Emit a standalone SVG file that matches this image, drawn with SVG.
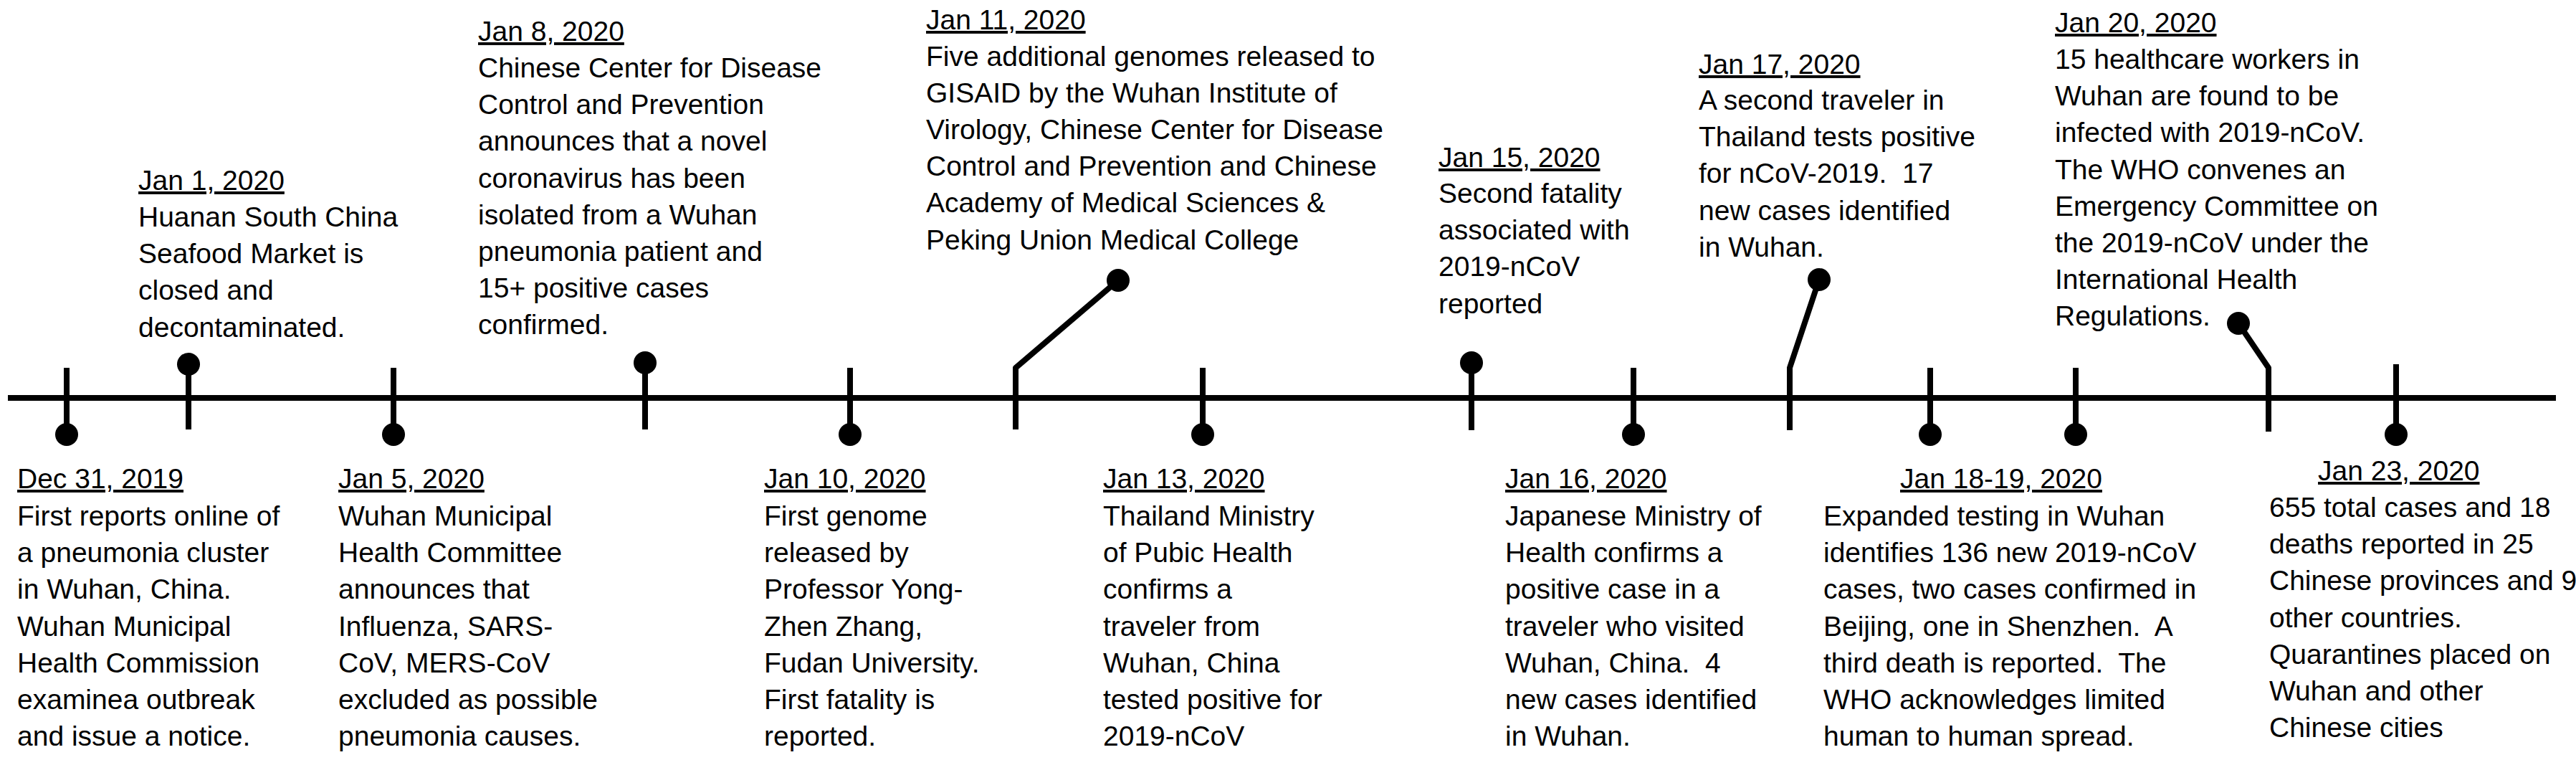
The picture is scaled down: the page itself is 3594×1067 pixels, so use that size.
<svg xmlns="http://www.w3.org/2000/svg" width="3594" height="1067" viewBox="0 0 3594 1067">
<style>
text{font-family:"Liberation Sans",Arial,sans-serif;font-size:39px;fill:#000;white-space:pre}
.d{text-decoration:underline}
.s{stroke:#000;stroke-width:8;fill:none;stroke-linejoin:round}
.b{fill:#000}
</style>
<rect width="3594" height="1067" fill="#fff"/>
<g id="connectors">
<line class="s" x1="11" y1="555" x2="3566" y2="555" stroke-width="9"/>
<line class="s" x1="93" y1="513" x2="93" y2="606"/>
<line class="s" x1="263" y1="599" x2="263" y2="508"/>
<line class="s" x1="549" y1="513" x2="549" y2="606"/>
<line class="s" x1="900" y1="599" x2="900" y2="506"/>
<line class="s" x1="1186" y1="513" x2="1186" y2="606"/>
<path class="s" d="M1417,599 L1417,513 L1560,391"/>
<line class="s" x1="1678" y1="513" x2="1678" y2="606"/>
<line class="s" x1="2053" y1="600" x2="2053" y2="506"/>
<line class="s" x1="2279" y1="513" x2="2279" y2="606"/>
<path class="s" d="M2497,600 L2497,513 L2538,390"/>
<line class="s" x1="2693" y1="513" x2="2693" y2="606"/>
<line class="s" x1="2896" y1="513" x2="2896" y2="606"/>
<path class="s" d="M3165,602 L3165,513 L3123,451"/>
<line class="s" x1="3343" y1="508" x2="3343" y2="606"/>
</g>
<g id="dec31">
<circle class="b" cx="93" cy="606" r="16"/>
<text class="d" x="24" y="681">Dec 31, 2019</text>
<text x="24" y="733"><tspan x="24">First reports online of</tspan><tspan x="24" dy="51.2">a pneumonia cluster</tspan><tspan x="24" dy="51.2">in Wuhan, China.</tspan><tspan x="24" dy="51.2">Wuhan Municipal</tspan><tspan x="24" dy="51.2">Health Commission</tspan><tspan x="24" dy="51.2">examinea outbreak</tspan><tspan x="24" dy="51.2">and issue a notice.</tspan></text>
</g>
<g id="jan1">
<circle class="b" cx="263" cy="508" r="16"/>
<text class="d" x="193" y="265">Jan 1, 2020</text>
<text x="193" y="316"><tspan x="193">Huanan South China</tspan><tspan x="193" dy="51.2">Seafood Market is</tspan><tspan x="193" dy="51.2">closed and</tspan><tspan x="193" dy="51.2">decontaminated.</tspan></text>
</g>
<g id="jan5">
<circle class="b" cx="549" cy="606" r="16"/>
<text class="d" x="472" y="681">Jan 5, 2020</text>
<text x="472" y="733"><tspan x="472">Wuhan Municipal</tspan><tspan x="472" dy="51.2">Health Committee</tspan><tspan x="472" dy="51.2">announces that</tspan><tspan x="472" dy="51.2">Influenza, SARS-</tspan><tspan x="472" dy="51.2">CoV, MERS-CoV</tspan><tspan x="472" dy="51.2">excluded as possible</tspan><tspan x="472" dy="51.2">pneumonia causes.</tspan></text>
</g>
<g id="jan8">
<circle class="b" cx="900" cy="506" r="16"/>
<text class="d" x="667" y="57">Jan 8, 2020</text>
<text x="667" y="108"><tspan x="667">Chinese Center for Disease</tspan><tspan x="667" dy="51.2">Control and Prevention</tspan><tspan x="667" dy="51.2">announces that a novel</tspan><tspan x="667" dy="51.2">coronavirus has been</tspan><tspan x="667" dy="51.2">isolated from a Wuhan</tspan><tspan x="667" dy="51.2">pneumonia patient and</tspan><tspan x="667" dy="51.2">15+ positive cases</tspan><tspan x="667" dy="51.2">confirmed.</tspan></text>
</g>
<g id="jan10">
<circle class="b" cx="1186" cy="606" r="16"/>
<text class="d" x="1066" y="681">Jan 10, 2020</text>
<text x="1066" y="733"><tspan x="1066">First genome</tspan><tspan x="1066" dy="51.2">released by</tspan><tspan x="1066" dy="51.2">Professor Yong-</tspan><tspan x="1066" dy="51.2">Zhen Zhang,</tspan><tspan x="1066" dy="51.2">Fudan University.</tspan><tspan x="1066" dy="51.2">First fatality is</tspan><tspan x="1066" dy="51.2">reported.</tspan></text>
</g>
<g id="jan11">
<circle class="b" cx="1560" cy="391" r="16"/>
<text class="d" x="1292" y="41">Jan 11, 2020</text>
<text x="1292" y="91.5"><tspan x="1292">Five additional genomes released to</tspan><tspan x="1292" dy="51.2">GISAID by the Wuhan Institute of</tspan><tspan x="1292" dy="51.2">Virology, Chinese Center for Disease</tspan><tspan x="1292" dy="51.2">Control and Prevention and Chinese</tspan><tspan x="1292" dy="51.2">Academy of Medical Sciences &amp;</tspan><tspan x="1292" dy="51.2">Peking Union Medical College</tspan></text>
</g>
<g id="jan13">
<circle class="b" cx="1678" cy="606" r="16"/>
<text class="d" x="1539" y="681">Jan 13, 2020</text>
<text x="1539" y="733"><tspan x="1539">Thailand Ministry</tspan><tspan x="1539" dy="51.2">of Pubic Health</tspan><tspan x="1539" dy="51.2">confirms a</tspan><tspan x="1539" dy="51.2">traveler from</tspan><tspan x="1539" dy="51.2">Wuhan, China</tspan><tspan x="1539" dy="51.2">tested positive for</tspan><tspan x="1539" dy="51.2">2019-nCoV</tspan></text>
</g>
<g id="jan15">
<circle class="b" cx="2053" cy="506" r="16"/>
<text class="d" x="2007" y="233">Jan 15, 2020</text>
<text x="2007" y="283"><tspan x="2007">Second fatality</tspan><tspan x="2007" dy="51.2">associated with</tspan><tspan x="2007" dy="51.2">2019-nCoV</tspan><tspan x="2007" dy="51.2">reported</tspan></text>
</g>
<g id="jan16">
<circle class="b" cx="2279" cy="606" r="16"/>
<text class="d" x="2100" y="681">Jan 16, 2020</text>
<text x="2100" y="733"><tspan x="2100">Japanese Ministry of</tspan><tspan x="2100" dy="51.2">Health confirms a</tspan><tspan x="2100" dy="51.2">positive case in a</tspan><tspan x="2100" dy="51.2">traveler who visited</tspan><tspan x="2100" dy="51.2">Wuhan, China.  4</tspan><tspan x="2100" dy="51.2">new cases identified</tspan><tspan x="2100" dy="51.2">in Wuhan.</tspan></text>
</g>
<g id="jan17">
<circle class="b" cx="2538" cy="390" r="16"/>
<text class="d" x="2370" y="103">Jan 17, 2020</text>
<text x="2370" y="153"><tspan x="2370">A second traveler in</tspan><tspan x="2370" dy="51.2">Thailand tests positive</tspan><tspan x="2370" dy="51.2">for nCoV-2019.  17</tspan><tspan x="2370" dy="51.2">new cases identified</tspan><tspan x="2370" dy="51.2">in Wuhan.</tspan></text>
</g>
<g id="jan18-19">
<circle class="b" cx="2693" cy="606" r="16"/>
<circle class="b" cx="2896" cy="606" r="16"/>
<text class="d" x="2651" y="681">Jan 18-19, 2020</text>
<text x="2544" y="733"><tspan x="2544">Expanded testing in Wuhan</tspan><tspan x="2544" dy="51.2">identifies 136 new 2019-nCoV</tspan><tspan x="2544" dy="51.2">cases, two cases confirmed in</tspan><tspan x="2544" dy="51.2">Beijing, one in Shenzhen.  A</tspan><tspan x="2544" dy="51.2">third death is reported.  The</tspan><tspan x="2544" dy="51.2">WHO acknowledges limited</tspan><tspan x="2544" dy="51.2">human to human spread.</tspan></text>
</g>
<g id="jan20">
<circle class="b" cx="3123" cy="451" r="16"/>
<text class="d" x="2867" y="45">Jan 20, 2020</text>
<text x="2867" y="96"><tspan x="2867">15 healthcare workers in</tspan><tspan x="2867" dy="51.2">Wuhan are found to be</tspan><tspan x="2867" dy="51.2">infected with 2019-nCoV.</tspan><tspan x="2867" dy="51.2">The WHO convenes an</tspan><tspan x="2867" dy="51.2">Emergency Committee on</tspan><tspan x="2867" dy="51.2">the 2019-nCoV under the</tspan><tspan x="2867" dy="51.2">International Health</tspan><tspan x="2867" dy="51.2">Regulations.</tspan></text>
</g>
<g id="jan23">
<circle class="b" cx="3343" cy="606" r="16"/>
<text class="d" x="3234" y="670">Jan 23, 2020</text>
<text x="3166" y="721"><tspan x="3166">655 total cases and 18</tspan><tspan x="3166" dy="51.2">deaths reported in 25</tspan><tspan x="3166" dy="51.2">Chinese provinces and 9</tspan><tspan x="3166" dy="51.2">other countries.</tspan><tspan x="3166" dy="51.2">Quarantines placed on</tspan><tspan x="3166" dy="51.2">Wuhan and other</tspan><tspan x="3166" dy="51.2">Chinese cities</tspan></text>
</g>
</svg>
